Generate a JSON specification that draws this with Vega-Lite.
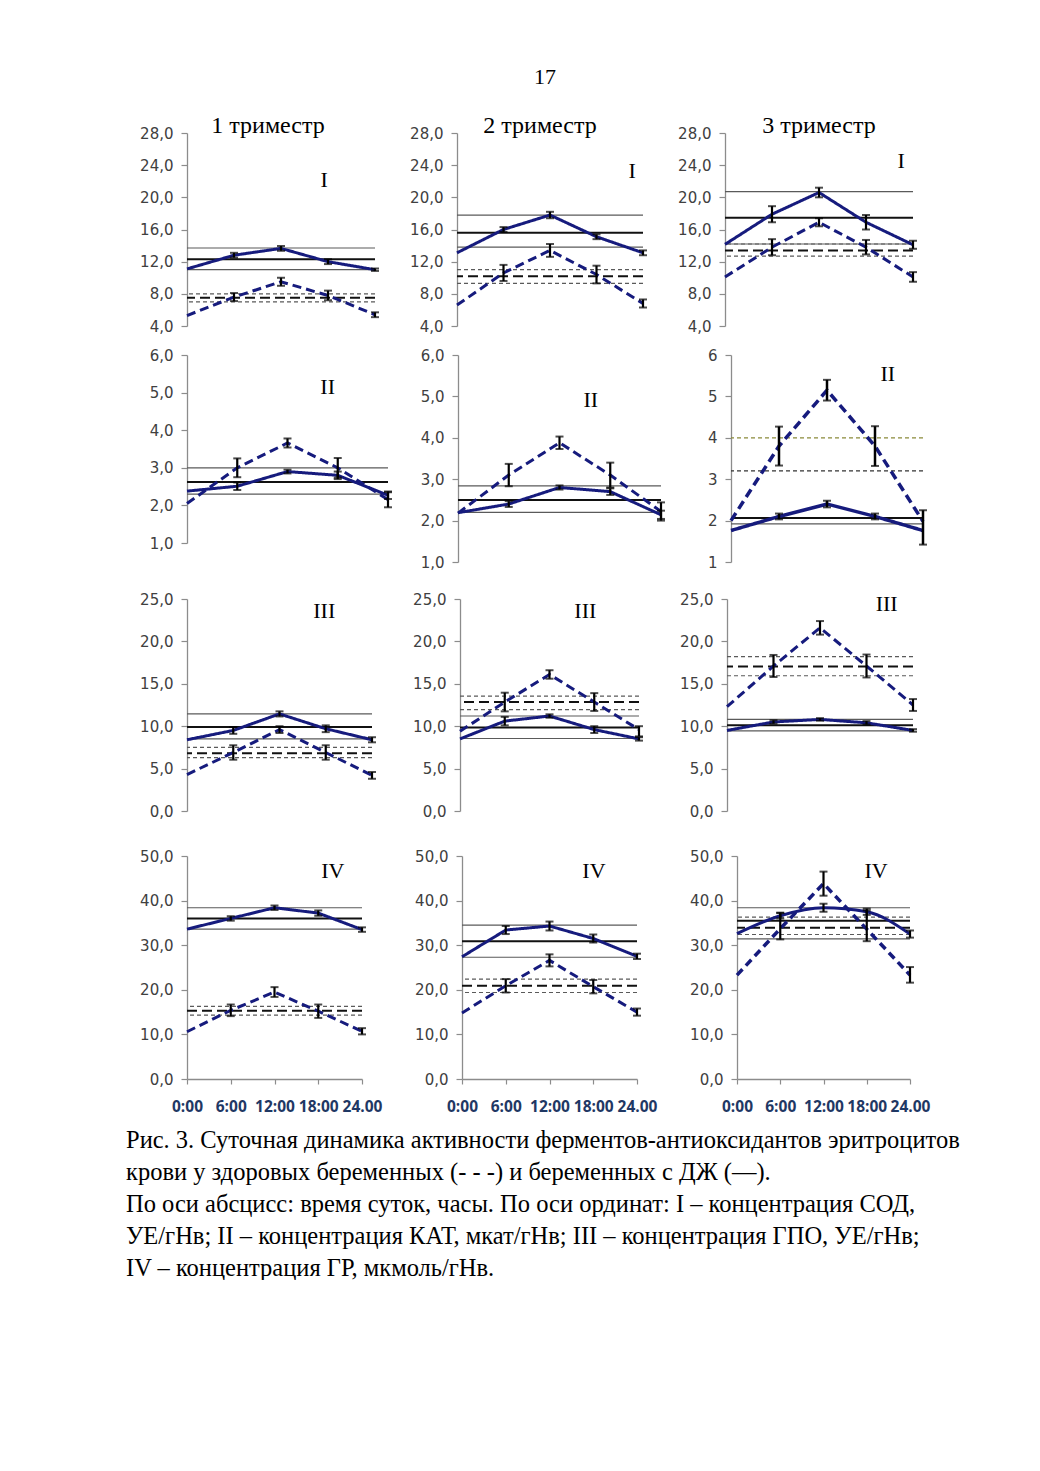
{
"$schema":"https://vega.github.io/schema/vega-lite/v6.json",
"background":"white",
"padding":{"left":126,"top":66,"right":0,"bottom":0},
"datasets":{
"labels":[{"p":"I1","t":"I"},{"p":"I2","t":"I"},{"p":"I3","t":"I"},{"p":"II1","t":"II"},{"p":"II2","t":"II"},{"p":"II3","t":"II"},{"p":"III1","t":"III"},{"p":"III2","t":"III"},{"p":"III3","t":"III"},{"p":"IV1","t":"IV"},{"p":"IV2","t":"IV"},{"p":"IV3","t":"IV"}],
"pts":[
{"p":"I1","g":"ДЖ","h":0,"v":11.1},{"p":"I1","g":"ДЖ","h":6,"v":12.8,"lo":12.5,"hi":13.1},{"p":"I1","g":"ДЖ","h":12,"v":13.65,"lo":13.35,"hi":13.95},{"p":"I1","g":"ДЖ","h":18,"v":12.0,"lo":11.7,"hi":12.3},{"p":"I1","g":"ДЖ","h":24,"v":11.0,"lo":10.85,"hi":11.15},
{"p":"I1","g":"здоровые","h":0,"v":5.3},{"p":"I1","g":"здоровые","h":6,"v":7.6,"lo":7.1,"hi":8.1},{"p":"I1","g":"здоровые","h":12,"v":9.5,"lo":9.0,"hi":10.0},{"p":"I1","g":"здоровые","h":18,"v":7.8,"lo":7.2,"hi":8.4},{"p":"I1","g":"здоровые","h":24,"v":5.4,"lo":5.1,"hi":5.7},
{"p":"I2","g":"ДЖ","h":0,"v":13.1},{"p":"I2","g":"ДЖ","h":6,"v":16.0,"lo":15.7,"hi":16.3},{"p":"I2","g":"ДЖ","h":12,"v":17.8,"lo":17.4,"hi":18.2},{"p":"I2","g":"ДЖ","h":18,"v":15.1,"lo":14.8,"hi":15.4},{"p":"I2","g":"ДЖ","h":24,"v":13.1,"lo":12.8,"hi":13.4},
{"p":"I2","g":"здоровые","h":0,"v":6.6},{"p":"I2","g":"здоровые","h":6,"v":10.6,"lo":9.6,"hi":11.6},{"p":"I2","g":"здоровые","h":12,"v":13.4,"lo":12.6,"hi":14.2},{"p":"I2","g":"здоровые","h":18,"v":10.4,"lo":9.3,"hi":11.5},{"p":"I2","g":"здоровые","h":24,"v":6.8,"lo":6.3,"hi":7.3},
{"p":"I3","g":"ДЖ","h":0,"v":14.15},{"p":"I3","g":"ДЖ","h":6,"v":17.9,"lo":16.9,"hi":18.9},{"p":"I3","g":"ДЖ","h":12,"v":20.6,"lo":20.0,"hi":21.2},{"p":"I3","g":"ДЖ","h":18,"v":16.9,"lo":16.0,"hi":17.8},{"p":"I3","g":"ДЖ","h":24,"v":14.1,"lo":13.6,"hi":14.6},
{"p":"I3","g":"здоровые","h":0,"v":10.1},{"p":"I3","g":"здоровые","h":6,"v":13.8,"lo":12.8,"hi":14.8},{"p":"I3","g":"здоровые","h":12,"v":16.9,"lo":16.4,"hi":17.4},{"p":"I3","g":"здоровые","h":18,"v":13.8,"lo":12.9,"hi":14.7},{"p":"I3","g":"здоровые","h":24,"v":10.1,"lo":9.5,"hi":10.7},
{"p":"II1","g":"ДЖ","h":0,"v":2.38},{"p":"II1","g":"ДЖ","h":6,"v":2.51,"lo":2.41,"hi":2.61},{"p":"II1","g":"ДЖ","h":12,"v":2.9,"lo":2.85,"hi":2.95},{"p":"II1","g":"ДЖ","h":18,"v":2.8,"lo":2.7,"hi":2.9},{"p":"II1","g":"ДЖ","h":24,"v":2.27,"lo":2.17,"hi":2.37},
{"p":"II1","g":"здоровые","h":0,"v":2.05},{"p":"II1","g":"здоровые","h":6,"v":3.0,"lo":2.75,"hi":3.25},{"p":"II1","g":"здоровые","h":12,"v":3.66,"lo":3.54,"hi":3.78},{"p":"II1","g":"здоровые","h":18,"v":3.0,"lo":2.74,"hi":3.26},{"p":"II1","g":"здоровые","h":24,"v":2.15,"lo":1.95,"hi":2.35},
{"p":"II2","g":"ДЖ","h":0,"v":2.19},{"p":"II2","g":"ДЖ","h":6,"v":2.4,"lo":2.33,"hi":2.47},{"p":"II2","g":"ДЖ","h":12,"v":2.8,"lo":2.75,"hi":2.85},{"p":"II2","g":"ДЖ","h":18,"v":2.7,"lo":2.62,"hi":2.78},{"p":"II2","g":"ДЖ","h":24,"v":2.14,"lo":2.04,"hi":2.24},
{"p":"II2","g":"здоровые","h":0,"v":2.18},{"p":"II2","g":"здоровые","h":6,"v":3.1,"lo":2.83,"hi":3.37},{"p":"II2","g":"здоровые","h":12,"v":3.88,"lo":3.73,"hi":4.03},{"p":"II2","g":"здоровые","h":18,"v":3.1,"lo":2.8,"hi":3.4},{"p":"II2","g":"здоровые","h":24,"v":2.22,"lo":2.0,"hi":2.44},
{"p":"II3","g":"ДЖ","h":0,"v":1.76},{"p":"II3","g":"ДЖ","h":6,"v":2.1,"lo":2.03,"hi":2.17},{"p":"II3","g":"ДЖ","h":12,"v":2.4,"lo":2.32,"hi":2.48},{"p":"II3","g":"ДЖ","h":18,"v":2.1,"lo":2.03,"hi":2.17},{"p":"II3","g":"ДЖ","h":24,"v":1.76,"lo":1.42,"hi":2.25},
{"p":"II3","g":"здоровые","h":0,"v":2.0},{"p":"II3","g":"здоровые","h":6,"v":3.8,"lo":3.33,"hi":4.27},{"p":"II3","g":"здоровые","h":12,"v":5.15,"lo":4.9,"hi":5.4},{"p":"II3","g":"здоровые","h":18,"v":3.8,"lo":3.32,"hi":4.28},{"p":"II3","g":"здоровые","h":24,"v":1.98},
{"p":"III1","g":"ДЖ","h":0,"v":8.4},{"p":"III1","g":"ДЖ","h":6,"v":9.5,"lo":9.1,"hi":9.9},{"p":"III1","g":"ДЖ","h":12,"v":11.45,"lo":11.15,"hi":11.75},{"p":"III1","g":"ДЖ","h":18,"v":9.7,"lo":9.3,"hi":10.1},{"p":"III1","g":"ДЖ","h":24,"v":8.4,"lo":8.1,"hi":8.7},
{"p":"III1","g":"здоровые","h":0,"v":4.3},{"p":"III1","g":"здоровые","h":6,"v":6.9,"lo":6.05,"hi":7.75},{"p":"III1","g":"здоровые","h":12,"v":9.6,"lo":9.2,"hi":10.0},{"p":"III1","g":"здоровые","h":18,"v":6.9,"lo":6.05,"hi":7.75},{"p":"III1","g":"здоровые","h":24,"v":4.2,"lo":3.8,"hi":4.6},
{"p":"III2","g":"ДЖ","h":0,"v":8.5},{"p":"III2","g":"ДЖ","h":6,"v":10.6,"lo":10.1,"hi":11.1},{"p":"III2","g":"ДЖ","h":12,"v":11.2,"lo":11.0,"hi":11.4},{"p":"III2","g":"ДЖ","h":18,"v":9.6,"lo":9.2,"hi":10.0},{"p":"III2","g":"ДЖ","h":24,"v":8.5,"lo":8.3,"hi":8.7},
{"p":"III2","g":"здоровые","h":0,"v":9.4},{"p":"III2","g":"здоровые","h":6,"v":12.85,"lo":11.75,"hi":13.95},{"p":"III2","g":"здоровые","h":12,"v":16.1,"lo":15.6,"hi":16.6},{"p":"III2","g":"здоровые","h":18,"v":12.85,"lo":11.8,"hi":13.9},{"p":"III2","g":"здоровые","h":24,"v":9.6,"lo":8.8,"hi":10.0},
{"p":"III3","g":"ДЖ","h":0,"v":9.5},{"p":"III3","g":"ДЖ","h":6,"v":10.5,"lo":10.3,"hi":10.7},{"p":"III3","g":"ДЖ","h":12,"v":10.8,"lo":10.65,"hi":10.95},{"p":"III3","g":"ДЖ","h":18,"v":10.4,"lo":10.2,"hi":10.6},{"p":"III3","g":"ДЖ","h":24,"v":9.5,"lo":9.35,"hi":9.65},
{"p":"III3","g":"здоровые","h":0,"v":12.3},{"p":"III3","g":"здоровые","h":6,"v":17.1,"lo":15.8,"hi":18.4},{"p":"III3","g":"здоровые","h":12,"v":21.6,"lo":20.8,"hi":22.4},{"p":"III3","g":"здоровые","h":18,"v":17.1,"lo":15.75,"hi":18.45},{"p":"III3","g":"здоровые","h":24,"v":12.5,"lo":11.8,"hi":13.2},
{"p":"IV1","g":"ДЖ","h":0,"v":33.6},{"p":"IV1","g":"ДЖ","h":6,"v":36.0,"lo":35.5,"hi":36.5},{"p":"IV1","g":"ДЖ","h":12,"v":38.4,"lo":37.9,"hi":38.9},{"p":"IV1","g":"ДЖ","h":18,"v":37.2,"lo":36.6,"hi":37.8},{"p":"IV1","g":"ДЖ","h":24,"v":33.5,"lo":33.0,"hi":34.0},
{"p":"IV1","g":"здоровые","h":0,"v":10.6},{"p":"IV1","g":"здоровые","h":6,"v":15.4,"lo":14.1,"hi":16.7},{"p":"IV1","g":"здоровые","h":12,"v":19.5,"lo":18.4,"hi":20.6},{"p":"IV1","g":"здоровые","h":18,"v":15.2,"lo":13.7,"hi":16.7},{"p":"IV1","g":"здоровые","h":24,"v":10.7,"lo":10.0,"hi":11.4},
{"p":"IV2","g":"ДЖ","h":0,"v":27.4},{"p":"IV2","g":"ДЖ","h":6,"v":33.4,"lo":32.5,"hi":34.3},{"p":"IV2","g":"ДЖ","h":12,"v":34.3,"lo":33.3,"hi":35.3},{"p":"IV2","g":"ДЖ","h":18,"v":31.5,"lo":30.6,"hi":32.4},{"p":"IV2","g":"ДЖ","h":24,"v":27.5,"lo":26.9,"hi":28.1},
{"p":"IV2","g":"здоровые","h":0,"v":14.8},{"p":"IV2","g":"здоровые","h":6,"v":20.9,"lo":19.4,"hi":22.4},{"p":"IV2","g":"здоровые","h":12,"v":26.6,"lo":25.25,"hi":27.95},{"p":"IV2","g":"здоровые","h":18,"v":20.7,"lo":19.2,"hi":22.2},{"p":"IV2","g":"здоровые","h":24,"v":15.0,"lo":14.2,"hi":15.8},
{"p":"IV3","g":"ДЖ","h":0,"v":32.6},{"p":"IV3","g":"ДЖ","h":6,"v":36.6,"lo":36.0,"hi":37.2},{"p":"IV3","g":"ДЖ","h":12,"v":38.4,"lo":37.5,"hi":39.3},{"p":"IV3","g":"ДЖ","h":18,"v":37.5,"lo":36.8,"hi":38.2},{"p":"IV3","g":"ДЖ","h":24,"v":32.5,"lo":31.7,"hi":33.3},
{"p":"IV3","g":"здоровые","h":0,"v":23.3},{"p":"IV3","g":"здоровые","h":6,"v":33.7,"lo":31.3,"hi":37.3},{"p":"IV3","g":"здоровые","h":12,"v":43.8,"lo":41.1,"hi":46.5},{"p":"IV3","g":"здоровые","h":18,"v":33.6,"lo":30.9,"hi":37.8},{"p":"IV3","g":"здоровые","h":24,"v":23.3,"lo":21.6,"hi":25.1}
],
"refs":[
{"p":"I1","g":"ДЖ","s":"m","v":12.3},{"p":"I1","g":"ДЖ","s":"b","v":13.7},{"p":"I1","g":"ДЖ","s":"b","v":11.0},{"p":"I1","g":"здоровые","s":"m","v":7.5},{"p":"I1","g":"здоровые","s":"b","v":8.0},{"p":"I1","g":"здоровые","s":"b","v":7.0},
{"p":"I2","g":"ДЖ","s":"m","v":15.6},{"p":"I2","g":"ДЖ","s":"b","v":17.8},{"p":"I2","g":"ДЖ","s":"b","v":13.8},{"p":"I2","g":"здоровые","s":"m","v":10.2},{"p":"I2","g":"здоровые","s":"b","v":11.0},{"p":"I2","g":"здоровые","s":"b","v":9.3},
{"p":"I3","g":"ДЖ","s":"m","v":17.45},{"p":"I3","g":"ДЖ","s":"b","v":20.7},{"p":"I3","g":"ДЖ","s":"b","v":14.2},{"p":"I3","g":"здоровые","s":"m","v":13.4},{"p":"I3","g":"здоровые","s":"b","v":14.2},{"p":"I3","g":"здоровые","s":"b","v":12.7},
{"p":"II1","g":"ДЖ","s":"m","v":2.62},{"p":"II1","g":"ДЖ","s":"b","v":3.0},{"p":"II1","g":"ДЖ","s":"b","v":2.3},
{"p":"II2","g":"ДЖ","s":"m","v":2.5},{"p":"II2","g":"ДЖ","s":"b","v":2.84},{"p":"II2","g":"ДЖ","s":"b","v":2.2},
{"p":"II3","g":"ДЖ","s":"m","v":2.06},{"p":"II3","g":"ДЖ","s":"b","v":1.92},{"p":"II3","g":"здоровые","s":"b","v":4.0},{"p":"II3","g":"здоровые","s":"b","v":3.2},
{"p":"III1","g":"ДЖ","s":"m","v":9.9},{"p":"III1","g":"ДЖ","s":"b","v":11.45},{"p":"III1","g":"ДЖ","s":"b","v":8.5},{"p":"III1","g":"здоровые","s":"m","v":6.8},{"p":"III1","g":"здоровые","s":"b","v":7.5},{"p":"III1","g":"здоровые","s":"b","v":6.3},
{"p":"III2","g":"ДЖ","s":"m","v":9.85},{"p":"III2","g":"ДЖ","s":"b","v":11.2},{"p":"III2","g":"ДЖ","s":"b","v":8.55},{"p":"III2","g":"здоровые","s":"m","v":12.85},{"p":"III2","g":"здоровые","s":"b","v":13.55},{"p":"III2","g":"здоровые","s":"b","v":11.95},
{"p":"III3","g":"ДЖ","s":"m","v":10.1},{"p":"III3","g":"ДЖ","s":"b","v":10.8},{"p":"III3","g":"ДЖ","s":"b","v":9.45},{"p":"III3","g":"здоровые","s":"m","v":17.05},{"p":"III3","g":"здоровые","s":"b","v":18.2},{"p":"III3","g":"здоровые","s":"b","v":15.95},
{"p":"IV1","g":"ДЖ","s":"m","v":36.0},{"p":"IV1","g":"ДЖ","s":"b","v":38.4},{"p":"IV1","g":"ДЖ","s":"b","v":33.6},{"p":"IV1","g":"здоровые","s":"m","v":15.3},{"p":"IV1","g":"здоровые","s":"b","v":16.3},{"p":"IV1","g":"здоровые","s":"b","v":14.3},
{"p":"IV2","g":"ДЖ","s":"m","v":30.9},{"p":"IV2","g":"ДЖ","s":"b","v":34.5},{"p":"IV2","g":"ДЖ","s":"b","v":27.3},{"p":"IV2","g":"здоровые","s":"m","v":20.9},{"p":"IV2","g":"здоровые","s":"b","v":22.4},{"p":"IV2","g":"здоровые","s":"b","v":19.4},
{"p":"IV3","g":"ДЖ","s":"m","v":35.5},{"p":"IV3","g":"ДЖ","s":"b","v":38.4},{"p":"IV3","g":"ДЖ","s":"b","v":31.4},{"p":"IV3","g":"здоровые","s":"m","v":33.9},{"p":"IV3","g":"здоровые","s":"b","v":36.3},{"p":"IV3","g":"здоровые","s":"b","v":32.4}
]
},
"title":{"text":["Рис. 3. Суточная динамика активности ферментов-антиоксидантов эритроцитов","крови у здоровых беременных (- - -) и  беременных с ДЖ (—).","По оси абсцисс: время суток, часы. По оси ординат:   I –  концентрация СОД,","УЕ/гНв; II – концентрация КАТ, мкат/гНв; III – концентрация ГПО, УЕ/гНв;","IV – концентрация ГР, мкмоль/гНв."],"orient":"bottom","anchor":"start","frame":"bounds","offset":14,"dx":-13,"lineHeight":32,"fontSize":24.5,"align":"left"},
"spacing":14,
"vconcat":[
{"title":{"text":"17","anchor":"middle","frame":"bounds","offset":25,"dx":16},
"hconcat":[
{"width":188,"height":193,"title":{"text":"1 триместр","frame":"group","dx":-13,"offset":-12,"fontSize":24},
"layer":[
{"data":{"name":"refs"},"transform":[{"filter":"datum.p=='I1'&&datum.g=='ДЖ'"}],"mark":"rule","encoding":{"y":{"field":"v","type":"quantitative","title":null,"scale":{"domain":[4,28],"nice":false,"zero":false},"axis":{"values":[4,8,12,16,20,24,28],"labelOverlap":false,"labelExpr":"replace(format(datum.value,'.1f'),'.',',')"}},"color":{"condition":{"test":"datum.s=='m'","value":"#111"},"value":"#5a5a5a"},"strokeWidth":{"condition":{"test":"datum.s=='m'","value":2},"value":1.2}}},
{"data":{"name":"refs"},"transform":[{"filter":"datum.p=='I1'&&datum.g!='ДЖ'"}],"mark":"rule","encoding":{"y":{"field":"v","type":"quantitative","title":null,"scale":{"domain":[4,28],"nice":false,"zero":false},"axis":{"values":[4,8,12,16,20,24,28],"labelOverlap":false,"labelExpr":"replace(format(datum.value,'.1f'),'.',',')"}},"color":{"condition":{"test":"datum.s=='m'","value":"#111"},"value":"#5a5a5a"},"strokeWidth":{"condition":{"test":"datum.s=='m'","value":2},"value":1.2},"strokeDash":{"condition":{"test":"datum.s=='m'","value":[10,5]},"value":[4,3]}}},
{"data":{"name":"pts"},"transform":[{"filter":"datum.p=='I1'"}],"mark":{"type":"line","color":"#161b7d","strokeWidth":3},"encoding":{"x":{"field":"h","type":"quantitative","title":null,"scale":{"domain":[0,24],"nice":false},"axis":null},"y":{"field":"v","type":"quantitative","title":null,"scale":{"domain":[4,28],"nice":false,"zero":false},"axis":{"values":[4,8,12,16,20,24,28],"labelOverlap":false,"labelExpr":"replace(format(datum.value,'.1f'),'.',',')"}},"strokeDash":{"field":"g","type":"nominal","scale":{"domain":["ДЖ","здоровые"],"range":[[1,0],[9,5]]},"legend":null}}},
{"data":{"name":"pts"},"transform":[{"filter":"datum.p=='I1'&&isValid(datum.lo)"}],"mark":{"type":"rule","color":"#000","strokeWidth":2.2},"encoding":{"x":{"field":"h","type":"quantitative","title":null,"axis":null},"y":{"field":"lo","type":"quantitative","title":null,"scale":{"domain":[4,28],"nice":false,"zero":false},"axis":{"values":[4,8,12,16,20,24,28],"labelOverlap":false,"labelExpr":"replace(format(datum.value,'.1f'),'.',',')"}},"y2":{"field":"hi"}}},
{"data":{"name":"pts"},"transform":[{"filter":"datum.p=='I1'&&isValid(datum.lo)"}],"mark":{"type":"tick","orient":"horizontal","size":8,"thickness":2,"color":"#000"},"encoding":{"x":{"field":"h","type":"quantitative","title":null,"axis":null},"y":{"field":"lo","type":"quantitative","title":null,"scale":{"domain":[4,28],"nice":false,"zero":false},"axis":{"values":[4,8,12,16,20,24,28],"labelOverlap":false,"labelExpr":"replace(format(datum.value,'.1f'),'.',',')"}}}},
{"data":{"name":"pts"},"transform":[{"filter":"datum.p=='I1'&&isValid(datum.lo)"}],"mark":{"type":"tick","orient":"horizontal","size":8,"thickness":2,"color":"#000"},"encoding":{"x":{"field":"h","type":"quantitative","title":null,"axis":null},"y":{"field":"hi","type":"quantitative","title":null,"scale":{"domain":[4,28],"nice":false,"zero":false},"axis":{"values":[4,8,12,16,20,24,28],"labelOverlap":false,"labelExpr":"replace(format(datum.value,'.1f'),'.',',')"}}}},
{"data":{"name":"labels"},"transform":[{"filter":"datum.p=='I1'"}],"mark":{"type":"text","font":"Liberation Serif","fontSize":22,"color":"#000"},"encoding":{"text":{"field":"t","type":"nominal"},"x":{"datum":17.5,"type":"quantitative","axis":null},"y":{"datum":22.2,"type":"quantitative","title":null,"scale":{"domain":[4,28],"nice":false,"zero":false},"axis":{"values":[4,8,12,16,20,24,28],"labelOverlap":false,"labelExpr":"replace(format(datum.value,'.1f'),'.',',')"}}}}
]},
{"width":186,"height":193,"title":{"text":"2 триместр","frame":"group","dx":-10,"offset":-12,"fontSize":24},
"layer":[
{"data":{"name":"refs"},"transform":[{"filter":"datum.p=='I2'&&datum.g=='ДЖ'"}],"mark":"rule","encoding":{"y":{"field":"v","type":"quantitative","title":null,"scale":{"domain":[4,28],"nice":false,"zero":false},"axis":{"values":[4,8,12,16,20,24,28],"labelOverlap":false,"labelExpr":"replace(format(datum.value,'.1f'),'.',',')"}},"color":{"condition":{"test":"datum.s=='m'","value":"#111"},"value":"#5a5a5a"},"strokeWidth":{"condition":{"test":"datum.s=='m'","value":2},"value":1.2}}},
{"data":{"name":"refs"},"transform":[{"filter":"datum.p=='I2'&&datum.g!='ДЖ'"}],"mark":"rule","encoding":{"y":{"field":"v","type":"quantitative","title":null,"scale":{"domain":[4,28],"nice":false,"zero":false},"axis":{"values":[4,8,12,16,20,24,28],"labelOverlap":false,"labelExpr":"replace(format(datum.value,'.1f'),'.',',')"}},"color":{"condition":{"test":"datum.s=='m'","value":"#111"},"value":"#5a5a5a"},"strokeWidth":{"condition":{"test":"datum.s=='m'","value":2},"value":1.2},"strokeDash":{"condition":{"test":"datum.s=='m'","value":[10,5]},"value":[4,3]}}},
{"data":{"name":"pts"},"transform":[{"filter":"datum.p=='I2'"}],"mark":{"type":"line","color":"#161b7d","strokeWidth":3},"encoding":{"x":{"field":"h","type":"quantitative","title":null,"scale":{"domain":[0,24],"nice":false},"axis":null},"y":{"field":"v","type":"quantitative","title":null,"scale":{"domain":[4,28],"nice":false,"zero":false},"axis":{"values":[4,8,12,16,20,24,28],"labelOverlap":false,"labelExpr":"replace(format(datum.value,'.1f'),'.',',')"}},"strokeDash":{"field":"g","type":"nominal","scale":{"domain":["ДЖ","здоровые"],"range":[[1,0],[9,5]]},"legend":null}}},
{"data":{"name":"pts"},"transform":[{"filter":"datum.p=='I2'&&isValid(datum.lo)"}],"mark":{"type":"rule","color":"#000","strokeWidth":2.2},"encoding":{"x":{"field":"h","type":"quantitative","title":null,"axis":null},"y":{"field":"lo","type":"quantitative","title":null,"scale":{"domain":[4,28],"nice":false,"zero":false},"axis":{"values":[4,8,12,16,20,24,28],"labelOverlap":false,"labelExpr":"replace(format(datum.value,'.1f'),'.',',')"}},"y2":{"field":"hi"}}},
{"data":{"name":"pts"},"transform":[{"filter":"datum.p=='I2'&&isValid(datum.lo)"}],"mark":{"type":"tick","orient":"horizontal","size":8,"thickness":2,"color":"#000"},"encoding":{"x":{"field":"h","type":"quantitative","title":null,"axis":null},"y":{"field":"lo","type":"quantitative","title":null,"scale":{"domain":[4,28],"nice":false,"zero":false},"axis":{"values":[4,8,12,16,20,24,28],"labelOverlap":false,"labelExpr":"replace(format(datum.value,'.1f'),'.',',')"}}}},
{"data":{"name":"pts"},"transform":[{"filter":"datum.p=='I2'&&isValid(datum.lo)"}],"mark":{"type":"tick","orient":"horizontal","size":8,"thickness":2,"color":"#000"},"encoding":{"x":{"field":"h","type":"quantitative","title":null,"axis":null},"y":{"field":"hi","type":"quantitative","title":null,"scale":{"domain":[4,28],"nice":false,"zero":false},"axis":{"values":[4,8,12,16,20,24,28],"labelOverlap":false,"labelExpr":"replace(format(datum.value,'.1f'),'.',',')"}}}},
{"data":{"name":"labels"},"transform":[{"filter":"datum.p=='I2'"}],"mark":{"type":"text","font":"Liberation Serif","fontSize":22,"color":"#000"},"encoding":{"text":{"field":"t","type":"nominal"},"x":{"datum":22.6,"type":"quantitative","axis":null},"y":{"datum":23.3,"type":"quantitative","title":null,"scale":{"domain":[4,28],"nice":false,"zero":false},"axis":{"values":[4,8,12,16,20,24,28],"labelOverlap":false,"labelExpr":"replace(format(datum.value,'.1f'),'.',',')"}}}}
]},
{"width":188,"height":193,"title":{"text":"3 триместр","frame":"group","dx":0,"offset":-12,"fontSize":24},
"layer":[
{"data":{"name":"refs"},"transform":[{"filter":"datum.p=='I3'&&datum.g=='ДЖ'"}],"mark":"rule","encoding":{"y":{"field":"v","type":"quantitative","title":null,"scale":{"domain":[4,28],"nice":false,"zero":false},"axis":{"values":[4,8,12,16,20,24,28],"labelOverlap":false,"labelExpr":"replace(format(datum.value,'.1f'),'.',',')"}},"color":{"condition":{"test":"datum.s=='m'","value":"#111"},"value":"#5a5a5a"},"strokeWidth":{"condition":{"test":"datum.s=='m'","value":2},"value":1.2}}},
{"data":{"name":"refs"},"transform":[{"filter":"datum.p=='I3'&&datum.g!='ДЖ'"}],"mark":"rule","encoding":{"y":{"field":"v","type":"quantitative","title":null,"scale":{"domain":[4,28],"nice":false,"zero":false},"axis":{"values":[4,8,12,16,20,24,28],"labelOverlap":false,"labelExpr":"replace(format(datum.value,'.1f'),'.',',')"}},"color":{"condition":{"test":"datum.s=='m'","value":"#111"},"value":"#5a5a5a"},"strokeWidth":{"condition":{"test":"datum.s=='m'","value":2},"value":1.2},"strokeDash":{"condition":{"test":"datum.s=='m'","value":[10,5]},"value":[4,3]}}},
{"data":{"name":"pts"},"transform":[{"filter":"datum.p=='I3'"}],"mark":{"type":"line","color":"#161b7d","strokeWidth":3},"encoding":{"x":{"field":"h","type":"quantitative","title":null,"scale":{"domain":[0,24],"nice":false},"axis":null},"y":{"field":"v","type":"quantitative","title":null,"scale":{"domain":[4,28],"nice":false,"zero":false},"axis":{"values":[4,8,12,16,20,24,28],"labelOverlap":false,"labelExpr":"replace(format(datum.value,'.1f'),'.',',')"}},"strokeDash":{"field":"g","type":"nominal","scale":{"domain":["ДЖ","здоровые"],"range":[[1,0],[9,5]]},"legend":null}}},
{"data":{"name":"pts"},"transform":[{"filter":"datum.p=='I3'&&isValid(datum.lo)"}],"mark":{"type":"rule","color":"#000","strokeWidth":2.2},"encoding":{"x":{"field":"h","type":"quantitative","title":null,"axis":null},"y":{"field":"lo","type":"quantitative","title":null,"scale":{"domain":[4,28],"nice":false,"zero":false},"axis":{"values":[4,8,12,16,20,24,28],"labelOverlap":false,"labelExpr":"replace(format(datum.value,'.1f'),'.',',')"}},"y2":{"field":"hi"}}},
{"data":{"name":"pts"},"transform":[{"filter":"datum.p=='I3'&&isValid(datum.lo)"}],"mark":{"type":"tick","orient":"horizontal","size":8,"thickness":2,"color":"#000"},"encoding":{"x":{"field":"h","type":"quantitative","title":null,"axis":null},"y":{"field":"lo","type":"quantitative","title":null,"scale":{"domain":[4,28],"nice":false,"zero":false},"axis":{"values":[4,8,12,16,20,24,28],"labelOverlap":false,"labelExpr":"replace(format(datum.value,'.1f'),'.',',')"}}}},
{"data":{"name":"pts"},"transform":[{"filter":"datum.p=='I3'&&isValid(datum.lo)"}],"mark":{"type":"tick","orient":"horizontal","size":8,"thickness":2,"color":"#000"},"encoding":{"x":{"field":"h","type":"quantitative","title":null,"axis":null},"y":{"field":"hi","type":"quantitative","title":null,"scale":{"domain":[4,28],"nice":false,"zero":false},"axis":{"values":[4,8,12,16,20,24,28],"labelOverlap":false,"labelExpr":"replace(format(datum.value,'.1f'),'.',',')"}}}},
{"data":{"name":"labels"},"transform":[{"filter":"datum.p=='I3'"}],"mark":{"type":"text","font":"Liberation Serif","fontSize":22,"color":"#000"},"encoding":{"text":{"field":"t","type":"nominal"},"x":{"datum":22.5,"type":"quantitative","axis":null},"y":{"datum":24.5,"type":"quantitative","title":null,"scale":{"domain":[4,28],"nice":false,"zero":false},"axis":{"values":[4,8,12,16,20,24,28],"labelOverlap":false,"labelExpr":"replace(format(datum.value,'.1f'),'.',',')"}}}}
]}
],"spacing":82,"bounds":"flush"},
{"spacing":22,
"vconcat":[
{"hconcat":[
{"width":201,"height":188,
"layer":[
{"data":{"name":"refs"},"transform":[{"filter":"datum.p=='II1'&&datum.g=='ДЖ'"}],"mark":"rule","encoding":{"y":{"field":"v","type":"quantitative","title":null,"scale":{"domain":[1,6],"nice":false,"zero":false},"axis":{"values":[1,2,3,4,5,6],"labelOverlap":false,"labelExpr":"replace(format(datum.value,'.1f'),'.',',')"}},"color":{"condition":{"test":"datum.s=='m'","value":"#111"},"value":"#5a5a5a"},"strokeWidth":{"condition":{"test":"datum.s=='m'","value":2},"value":1.2}}},
{"data":{"name":"pts"},"transform":[{"filter":"datum.p=='II1'"}],"mark":{"type":"line","color":"#161b7d","strokeWidth":3},"encoding":{"x":{"field":"h","type":"quantitative","title":null,"scale":{"domain":[0,24],"nice":false},"axis":null},"y":{"field":"v","type":"quantitative","title":null,"scale":{"domain":[1,6],"nice":false,"zero":false},"axis":{"values":[1,2,3,4,5,6],"labelOverlap":false,"labelExpr":"replace(format(datum.value,'.1f'),'.',',')"}},"strokeDash":{"field":"g","type":"nominal","scale":{"domain":["ДЖ","здоровые"],"range":[[1,0],[9,5]]},"legend":null}}},
{"data":{"name":"pts"},"transform":[{"filter":"datum.p=='II1'&&isValid(datum.lo)"}],"mark":{"type":"rule","color":"#000","strokeWidth":2.2},"encoding":{"x":{"field":"h","type":"quantitative","title":null,"axis":null},"y":{"field":"lo","type":"quantitative","title":null,"scale":{"domain":[1,6],"nice":false,"zero":false},"axis":{"values":[1,2,3,4,5,6],"labelOverlap":false,"labelExpr":"replace(format(datum.value,'.1f'),'.',',')"}},"y2":{"field":"hi"}}},
{"data":{"name":"pts"},"transform":[{"filter":"datum.p=='II1'&&isValid(datum.lo)"}],"mark":{"type":"tick","orient":"horizontal","size":8,"thickness":2,"color":"#000"},"encoding":{"x":{"field":"h","type":"quantitative","title":null,"axis":null},"y":{"field":"lo","type":"quantitative","title":null,"scale":{"domain":[1,6],"nice":false,"zero":false},"axis":{"values":[1,2,3,4,5,6],"labelOverlap":false,"labelExpr":"replace(format(datum.value,'.1f'),'.',',')"}}}},
{"data":{"name":"pts"},"transform":[{"filter":"datum.p=='II1'&&isValid(datum.lo)"}],"mark":{"type":"tick","orient":"horizontal","size":8,"thickness":2,"color":"#000"},"encoding":{"x":{"field":"h","type":"quantitative","title":null,"axis":null},"y":{"field":"hi","type":"quantitative","title":null,"scale":{"domain":[1,6],"nice":false,"zero":false},"axis":{"values":[1,2,3,4,5,6],"labelOverlap":false,"labelExpr":"replace(format(datum.value,'.1f'),'.',',')"}}}},
{"data":{"name":"labels"},"transform":[{"filter":"datum.p=='II1'"}],"mark":{"type":"text","font":"Liberation Serif","fontSize":22,"color":"#000"},"encoding":{"text":{"field":"t","type":"nominal"},"x":{"datum":16.8,"type":"quantitative","axis":null},"y":{"datum":5.15,"type":"quantitative","title":null,"scale":{"domain":[1,6],"nice":false,"zero":false},"axis":{"values":[1,2,3,4,5,6],"labelOverlap":false,"labelExpr":"replace(format(datum.value,'.1f'),'.',',')"}}}}
]},
{"width":203,"height":207,
"layer":[
{"data":{"name":"refs"},"transform":[{"filter":"datum.p=='II2'&&datum.g=='ДЖ'"}],"mark":"rule","encoding":{"y":{"field":"v","type":"quantitative","title":null,"scale":{"domain":[1,6],"nice":false,"zero":false},"axis":{"values":[1,2,3,4,5,6],"labelOverlap":false,"labelExpr":"replace(format(datum.value,'.1f'),'.',',')"}},"color":{"condition":{"test":"datum.s=='m'","value":"#111"},"value":"#5a5a5a"},"strokeWidth":{"condition":{"test":"datum.s=='m'","value":2},"value":1.2}}},
{"data":{"name":"pts"},"transform":[{"filter":"datum.p=='II2'"}],"mark":{"type":"line","color":"#161b7d","strokeWidth":3},"encoding":{"x":{"field":"h","type":"quantitative","title":null,"scale":{"domain":[0,24],"nice":false},"axis":null},"y":{"field":"v","type":"quantitative","title":null,"scale":{"domain":[1,6],"nice":false,"zero":false},"axis":{"values":[1,2,3,4,5,6],"labelOverlap":false,"labelExpr":"replace(format(datum.value,'.1f'),'.',',')"}},"strokeDash":{"field":"g","type":"nominal","scale":{"domain":["ДЖ","здоровые"],"range":[[1,0],[9,5]]},"legend":null}}},
{"data":{"name":"pts"},"transform":[{"filter":"datum.p=='II2'&&isValid(datum.lo)"}],"mark":{"type":"rule","color":"#000","strokeWidth":2.2},"encoding":{"x":{"field":"h","type":"quantitative","title":null,"axis":null},"y":{"field":"lo","type":"quantitative","title":null,"scale":{"domain":[1,6],"nice":false,"zero":false},"axis":{"values":[1,2,3,4,5,6],"labelOverlap":false,"labelExpr":"replace(format(datum.value,'.1f'),'.',',')"}},"y2":{"field":"hi"}}},
{"data":{"name":"pts"},"transform":[{"filter":"datum.p=='II2'&&isValid(datum.lo)"}],"mark":{"type":"tick","orient":"horizontal","size":8,"thickness":2,"color":"#000"},"encoding":{"x":{"field":"h","type":"quantitative","title":null,"axis":null},"y":{"field":"lo","type":"quantitative","title":null,"scale":{"domain":[1,6],"nice":false,"zero":false},"axis":{"values":[1,2,3,4,5,6],"labelOverlap":false,"labelExpr":"replace(format(datum.value,'.1f'),'.',',')"}}}},
{"data":{"name":"pts"},"transform":[{"filter":"datum.p=='II2'&&isValid(datum.lo)"}],"mark":{"type":"tick","orient":"horizontal","size":8,"thickness":2,"color":"#000"},"encoding":{"x":{"field":"h","type":"quantitative","title":null,"axis":null},"y":{"field":"hi","type":"quantitative","title":null,"scale":{"domain":[1,6],"nice":false,"zero":false},"axis":{"values":[1,2,3,4,5,6],"labelOverlap":false,"labelExpr":"replace(format(datum.value,'.1f'),'.',',')"}}}},
{"data":{"name":"labels"},"transform":[{"filter":"datum.p=='II2'"}],"mark":{"type":"text","font":"Liberation Serif","fontSize":22,"color":"#000"},"encoding":{"text":{"field":"t","type":"nominal"},"x":{"datum":15.7,"type":"quantitative","axis":null},"y":{"datum":4.91,"type":"quantitative","title":null,"scale":{"domain":[1,6],"nice":false,"zero":false},"axis":{"values":[1,2,3,4,5,6],"labelOverlap":false,"labelExpr":"replace(format(datum.value,'.1f'),'.',',')"}}}}
]},
{"width":192,"height":207,
"layer":[
{"data":{"name":"refs"},"transform":[{"filter":"datum.p=='II3'&&datum.g=='ДЖ'"}],"mark":"rule","encoding":{"y":{"field":"v","type":"quantitative","title":null,"scale":{"domain":[1,6],"nice":false,"zero":false},"axis":{"values":[1,2,3,4,5,6],"labelOverlap":false,"format":"d"}},"color":{"condition":{"test":"datum.s=='m'","value":"#111"},"value":"#5a5a5a"},"strokeWidth":{"condition":{"test":"datum.s=='m'","value":2},"value":1.2}}},
{"data":{"name":"refs"},"transform":[{"filter":"datum.p=='II3'&&datum.g!='ДЖ'"}],"mark":"rule","encoding":{"y":{"field":"v","type":"quantitative","title":null,"scale":{"domain":[1,6],"nice":false,"zero":false},"axis":{"values":[1,2,3,4,5,6],"labelOverlap":false,"format":"d"}},"color":{"condition":{"test":"datum.v>3.5","value":"#8a8a3a"},"value":"#333"},"strokeWidth":{"value":1.2},"strokeDash":{"value":[4,3]}}},
{"data":{"name":"pts"},"transform":[{"filter":"datum.p=='II3'"}],"mark":{"type":"line","color":"#161b7d","strokeWidth":3.5},"encoding":{"x":{"field":"h","type":"quantitative","title":null,"scale":{"domain":[0,24],"nice":false},"axis":null},"y":{"field":"v","type":"quantitative","title":null,"scale":{"domain":[1,6],"nice":false,"zero":false},"axis":{"values":[1,2,3,4,5,6],"labelOverlap":false,"format":"d"}},"strokeDash":{"field":"g","type":"nominal","scale":{"domain":["ДЖ","здоровые"],"range":[[1,0],[7,4]]},"legend":null}}},
{"data":{"name":"pts"},"transform":[{"filter":"datum.p=='II3'&&isValid(datum.lo)"}],"mark":{"type":"rule","color":"#000","strokeWidth":2.5},"encoding":{"x":{"field":"h","type":"quantitative","title":null,"axis":null},"y":{"field":"lo","type":"quantitative","title":null,"scale":{"domain":[1,6],"nice":false,"zero":false},"axis":{"values":[1,2,3,4,5,6],"labelOverlap":false,"format":"d"}},"y2":{"field":"hi"}}},
{"data":{"name":"pts"},"transform":[{"filter":"datum.p=='II3'&&isValid(datum.lo)"}],"mark":{"type":"tick","orient":"horizontal","size":8,"thickness":2,"color":"#000"},"encoding":{"x":{"field":"h","type":"quantitative","title":null,"axis":null},"y":{"field":"lo","type":"quantitative","title":null,"scale":{"domain":[1,6],"nice":false,"zero":false},"axis":{"values":[1,2,3,4,5,6],"labelOverlap":false,"format":"d"}}}},
{"data":{"name":"pts"},"transform":[{"filter":"datum.p=='II3'&&isValid(datum.lo)"}],"mark":{"type":"tick","orient":"horizontal","size":8,"thickness":2,"color":"#000"},"encoding":{"x":{"field":"h","type":"quantitative","title":null,"axis":null},"y":{"field":"hi","type":"quantitative","title":null,"scale":{"domain":[1,6],"nice":false,"zero":false},"axis":{"values":[1,2,3,4,5,6],"labelOverlap":false,"format":"d"}}}},
{"data":{"name":"labels"},"transform":[{"filter":"datum.p=='II3'"}],"mark":{"type":"text","font":"Liberation Serif","fontSize":22,"color":"#000"},"encoding":{"text":{"field":"t","type":"nominal"},"x":{"datum":19.6,"type":"quantitative","axis":null},"y":{"datum":5.54,"type":"quantitative","title":null,"scale":{"domain":[1,6],"nice":false,"zero":false},"axis":{"values":[1,2,3,4,5,6],"labelOverlap":false,"format":"d"}}}}
]}
],"spacing":70,"bounds":"flush"},
{"spacing":30,"vconcat":[
{"hconcat":[
{"width":185,"height":212,
"layer":[
{"data":{"name":"refs"},"transform":[{"filter":"datum.p=='III1'&&datum.g=='ДЖ'"}],"mark":"rule","encoding":{"y":{"field":"v","type":"quantitative","title":null,"scale":{"domain":[0,25],"nice":false,"zero":false},"axis":{"values":[0,5,10,15,20,25],"labelOverlap":false,"labelExpr":"replace(format(datum.value,'.1f'),'.',',')"}},"color":{"condition":{"test":"datum.s=='m'","value":"#111"},"value":"#5a5a5a"},"strokeWidth":{"condition":{"test":"datum.s=='m'","value":2},"value":1.2}}},
{"data":{"name":"refs"},"transform":[{"filter":"datum.p=='III1'&&datum.g!='ДЖ'"}],"mark":"rule","encoding":{"y":{"field":"v","type":"quantitative","title":null,"scale":{"domain":[0,25],"nice":false,"zero":false},"axis":{"values":[0,5,10,15,20,25],"labelOverlap":false,"labelExpr":"replace(format(datum.value,'.1f'),'.',',')"}},"color":{"condition":{"test":"datum.s=='m'","value":"#111"},"value":"#5a5a5a"},"strokeWidth":{"condition":{"test":"datum.s=='m'","value":2},"value":1.2},"strokeDash":{"condition":{"test":"datum.s=='m'","value":[10,5]},"value":[4,3]}}},
{"data":{"name":"pts"},"transform":[{"filter":"datum.p=='III1'"}],"mark":{"type":"line","color":"#161b7d","strokeWidth":3},"encoding":{"x":{"field":"h","type":"quantitative","title":null,"scale":{"domain":[0,24],"nice":false},"axis":null},"y":{"field":"v","type":"quantitative","title":null,"scale":{"domain":[0,25],"nice":false,"zero":false},"axis":{"values":[0,5,10,15,20,25],"labelOverlap":false,"labelExpr":"replace(format(datum.value,'.1f'),'.',',')"}},"strokeDash":{"field":"g","type":"nominal","scale":{"domain":["ДЖ","здоровые"],"range":[[1,0],[9,5]]},"legend":null}}},
{"data":{"name":"pts"},"transform":[{"filter":"datum.p=='III1'&&isValid(datum.lo)"}],"mark":{"type":"rule","color":"#000","strokeWidth":2.2},"encoding":{"x":{"field":"h","type":"quantitative","title":null,"axis":null},"y":{"field":"lo","type":"quantitative","title":null,"scale":{"domain":[0,25],"nice":false,"zero":false},"axis":{"values":[0,5,10,15,20,25],"labelOverlap":false,"labelExpr":"replace(format(datum.value,'.1f'),'.',',')"}},"y2":{"field":"hi"}}},
{"data":{"name":"pts"},"transform":[{"filter":"datum.p=='III1'&&isValid(datum.lo)"}],"mark":{"type":"tick","orient":"horizontal","size":8,"thickness":2,"color":"#000"},"encoding":{"x":{"field":"h","type":"quantitative","title":null,"axis":null},"y":{"field":"lo","type":"quantitative","title":null,"scale":{"domain":[0,25],"nice":false,"zero":false},"axis":{"values":[0,5,10,15,20,25],"labelOverlap":false,"labelExpr":"replace(format(datum.value,'.1f'),'.',',')"}}}},
{"data":{"name":"pts"},"transform":[{"filter":"datum.p=='III1'&&isValid(datum.lo)"}],"mark":{"type":"tick","orient":"horizontal","size":8,"thickness":2,"color":"#000"},"encoding":{"x":{"field":"h","type":"quantitative","title":null,"axis":null},"y":{"field":"hi","type":"quantitative","title":null,"scale":{"domain":[0,25],"nice":false,"zero":false},"axis":{"values":[0,5,10,15,20,25],"labelOverlap":false,"labelExpr":"replace(format(datum.value,'.1f'),'.',',')"}}}},
{"data":{"name":"labels"},"transform":[{"filter":"datum.p=='III1'"}],"mark":{"type":"text","font":"Liberation Serif","fontSize":22,"color":"#000"},"encoding":{"text":{"field":"t","type":"nominal"},"x":{"datum":17.8,"type":"quantitative","axis":null},"y":{"datum":23.6,"type":"quantitative","title":null,"scale":{"domain":[0,25],"nice":false,"zero":false},"axis":{"values":[0,5,10,15,20,25],"labelOverlap":false,"labelExpr":"replace(format(datum.value,'.1f'),'.',',')"}}}}
]},
{"width":179,"height":212,
"layer":[
{"data":{"name":"refs"},"transform":[{"filter":"datum.p=='III2'&&datum.g=='ДЖ'"}],"mark":"rule","encoding":{"y":{"field":"v","type":"quantitative","title":null,"scale":{"domain":[0,25],"nice":false,"zero":false},"axis":{"values":[0,5,10,15,20,25],"labelOverlap":false,"labelExpr":"replace(format(datum.value,'.1f'),'.',',')"}},"color":{"condition":{"test":"datum.s=='m'","value":"#111"},"value":"#5a5a5a"},"strokeWidth":{"condition":{"test":"datum.s=='m'","value":2},"value":1.2}}},
{"data":{"name":"refs"},"transform":[{"filter":"datum.p=='III2'&&datum.g!='ДЖ'"}],"mark":"rule","encoding":{"y":{"field":"v","type":"quantitative","title":null,"scale":{"domain":[0,25],"nice":false,"zero":false},"axis":{"values":[0,5,10,15,20,25],"labelOverlap":false,"labelExpr":"replace(format(datum.value,'.1f'),'.',',')"}},"color":{"condition":{"test":"datum.s=='m'","value":"#111"},"value":"#5a5a5a"},"strokeWidth":{"condition":{"test":"datum.s=='m'","value":2},"value":1.2},"strokeDash":{"condition":{"test":"datum.s=='m'","value":[10,5]},"value":[4,3]}}},
{"data":{"name":"pts"},"transform":[{"filter":"datum.p=='III2'"}],"mark":{"type":"line","color":"#161b7d","strokeWidth":3},"encoding":{"x":{"field":"h","type":"quantitative","title":null,"scale":{"domain":[0,24],"nice":false},"axis":null},"y":{"field":"v","type":"quantitative","title":null,"scale":{"domain":[0,25],"nice":false,"zero":false},"axis":{"values":[0,5,10,15,20,25],"labelOverlap":false,"labelExpr":"replace(format(datum.value,'.1f'),'.',',')"}},"strokeDash":{"field":"g","type":"nominal","scale":{"domain":["ДЖ","здоровые"],"range":[[1,0],[9,5]]},"legend":null}}},
{"data":{"name":"pts"},"transform":[{"filter":"datum.p=='III2'&&isValid(datum.lo)"}],"mark":{"type":"rule","color":"#000","strokeWidth":2.2},"encoding":{"x":{"field":"h","type":"quantitative","title":null,"axis":null},"y":{"field":"lo","type":"quantitative","title":null,"scale":{"domain":[0,25],"nice":false,"zero":false},"axis":{"values":[0,5,10,15,20,25],"labelOverlap":false,"labelExpr":"replace(format(datum.value,'.1f'),'.',',')"}},"y2":{"field":"hi"}}},
{"data":{"name":"pts"},"transform":[{"filter":"datum.p=='III2'&&isValid(datum.lo)"}],"mark":{"type":"tick","orient":"horizontal","size":8,"thickness":2,"color":"#000"},"encoding":{"x":{"field":"h","type":"quantitative","title":null,"axis":null},"y":{"field":"lo","type":"quantitative","title":null,"scale":{"domain":[0,25],"nice":false,"zero":false},"axis":{"values":[0,5,10,15,20,25],"labelOverlap":false,"labelExpr":"replace(format(datum.value,'.1f'),'.',',')"}}}},
{"data":{"name":"pts"},"transform":[{"filter":"datum.p=='III2'&&isValid(datum.lo)"}],"mark":{"type":"tick","orient":"horizontal","size":8,"thickness":2,"color":"#000"},"encoding":{"x":{"field":"h","type":"quantitative","title":null,"axis":null},"y":{"field":"hi","type":"quantitative","title":null,"scale":{"domain":[0,25],"nice":false,"zero":false},"axis":{"values":[0,5,10,15,20,25],"labelOverlap":false,"labelExpr":"replace(format(datum.value,'.1f'),'.',',')"}}}},
{"data":{"name":"labels"},"transform":[{"filter":"datum.p=='III2'"}],"mark":{"type":"text","font":"Liberation Serif","fontSize":22,"color":"#000"},"encoding":{"text":{"field":"t","type":"nominal"},"x":{"datum":16.8,"type":"quantitative","axis":null},"y":{"datum":23.6,"type":"quantitative","title":null,"scale":{"domain":[0,25],"nice":false,"zero":false},"axis":{"values":[0,5,10,15,20,25],"labelOverlap":false,"labelExpr":"replace(format(datum.value,'.1f'),'.',',')"}}}}
]},
{"width":186,"height":212,
"layer":[
{"data":{"name":"refs"},"transform":[{"filter":"datum.p=='III3'&&datum.g=='ДЖ'"}],"mark":"rule","encoding":{"y":{"field":"v","type":"quantitative","title":null,"scale":{"domain":[0,25],"nice":false,"zero":false},"axis":{"values":[0,5,10,15,20,25],"labelOverlap":false,"labelExpr":"replace(format(datum.value,'.1f'),'.',',')"}},"color":{"condition":{"test":"datum.s=='m'","value":"#111"},"value":"#5a5a5a"},"strokeWidth":{"condition":{"test":"datum.s=='m'","value":2},"value":1.2}}},
{"data":{"name":"refs"},"transform":[{"filter":"datum.p=='III3'&&datum.g!='ДЖ'"}],"mark":"rule","encoding":{"y":{"field":"v","type":"quantitative","title":null,"scale":{"domain":[0,25],"nice":false,"zero":false},"axis":{"values":[0,5,10,15,20,25],"labelOverlap":false,"labelExpr":"replace(format(datum.value,'.1f'),'.',',')"}},"color":{"condition":{"test":"datum.s=='m'","value":"#111"},"value":"#5a5a5a"},"strokeWidth":{"condition":{"test":"datum.s=='m'","value":2},"value":1.2},"strokeDash":{"condition":{"test":"datum.s=='m'","value":[10,5]},"value":[4,3]}}},
{"data":{"name":"pts"},"transform":[{"filter":"datum.p=='III3'"}],"mark":{"type":"line","color":"#161b7d","strokeWidth":3},"encoding":{"x":{"field":"h","type":"quantitative","title":null,"scale":{"domain":[0,24],"nice":false},"axis":null},"y":{"field":"v","type":"quantitative","title":null,"scale":{"domain":[0,25],"nice":false,"zero":false},"axis":{"values":[0,5,10,15,20,25],"labelOverlap":false,"labelExpr":"replace(format(datum.value,'.1f'),'.',',')"}},"strokeDash":{"field":"g","type":"nominal","scale":{"domain":["ДЖ","здоровые"],"range":[[1,0],[9,5]]},"legend":null}}},
{"data":{"name":"pts"},"transform":[{"filter":"datum.p=='III3'&&isValid(datum.lo)"}],"mark":{"type":"rule","color":"#000","strokeWidth":2.2},"encoding":{"x":{"field":"h","type":"quantitative","title":null,"axis":null},"y":{"field":"lo","type":"quantitative","title":null,"scale":{"domain":[0,25],"nice":false,"zero":false},"axis":{"values":[0,5,10,15,20,25],"labelOverlap":false,"labelExpr":"replace(format(datum.value,'.1f'),'.',',')"}},"y2":{"field":"hi"}}},
{"data":{"name":"pts"},"transform":[{"filter":"datum.p=='III3'&&isValid(datum.lo)"}],"mark":{"type":"tick","orient":"horizontal","size":8,"thickness":2,"color":"#000"},"encoding":{"x":{"field":"h","type":"quantitative","title":null,"axis":null},"y":{"field":"lo","type":"quantitative","title":null,"scale":{"domain":[0,25],"nice":false,"zero":false},"axis":{"values":[0,5,10,15,20,25],"labelOverlap":false,"labelExpr":"replace(format(datum.value,'.1f'),'.',',')"}}}},
{"data":{"name":"pts"},"transform":[{"filter":"datum.p=='III3'&&isValid(datum.lo)"}],"mark":{"type":"tick","orient":"horizontal","size":8,"thickness":2,"color":"#000"},"encoding":{"x":{"field":"h","type":"quantitative","title":null,"axis":null},"y":{"field":"hi","type":"quantitative","title":null,"scale":{"domain":[0,25],"nice":false,"zero":false},"axis":{"values":[0,5,10,15,20,25],"labelOverlap":false,"labelExpr":"replace(format(datum.value,'.1f'),'.',',')"}}}},
{"data":{"name":"labels"},"transform":[{"filter":"datum.p=='III3'"}],"mark":{"type":"text","font":"Liberation Serif","fontSize":22,"color":"#000"},"encoding":{"text":{"field":"t","type":"nominal"},"x":{"datum":20.6,"type":"quantitative","axis":null},"y":{"datum":24.4,"type":"quantitative","title":null,"scale":{"domain":[0,25],"nice":false,"zero":false},"axis":{"values":[0,5,10,15,20,25],"labelOverlap":false,"labelExpr":"replace(format(datum.value,'.1f'),'.',',')"}}}}
]}
],"spacing":88,"bounds":"flush"},
{"hconcat":[
{"width":175,"height":223,
"layer":[
{"data":{"name":"refs"},"transform":[{"filter":"datum.p=='IV1'&&datum.g=='ДЖ'"}],"mark":"rule","encoding":{"y":{"field":"v","type":"quantitative","title":null,"scale":{"domain":[0,50],"nice":false,"zero":false},"axis":{"values":[0,10,20,30,40,50],"labelOverlap":false,"labelExpr":"replace(format(datum.value,'.1f'),'.',',')"}},"color":{"condition":{"test":"datum.s=='m'","value":"#111"},"value":"#5a5a5a"},"strokeWidth":{"condition":{"test":"datum.s=='m'","value":2},"value":1.2}}},
{"data":{"name":"refs"},"transform":[{"filter":"datum.p=='IV1'&&datum.g!='ДЖ'"}],"mark":"rule","encoding":{"y":{"field":"v","type":"quantitative","title":null,"scale":{"domain":[0,50],"nice":false,"zero":false},"axis":{"values":[0,10,20,30,40,50],"labelOverlap":false,"labelExpr":"replace(format(datum.value,'.1f'),'.',',')"}},"color":{"condition":{"test":"datum.s=='m'","value":"#111"},"value":"#5a5a5a"},"strokeWidth":{"condition":{"test":"datum.s=='m'","value":2},"value":1.2},"strokeDash":{"condition":{"test":"datum.s=='m'","value":[10,5]},"value":[4,3]}}},
{"data":{"name":"pts"},"transform":[{"filter":"datum.p=='IV1'"}],"mark":{"type":"line","color":"#161b7d","strokeWidth":3},"encoding":{"x":{"field":"h","type":"quantitative","title":null,"scale":{"domain":[0,24],"nice":false},"axis":{"values":[0,6,12,18,24],"labelExpr":"datum.value==24?'24.00':datum.value+':00'","labelFont":"Open Sans","labelFontWeight":"bold","labelFontSize":15.5,"labelColor":"#1f3864","labelPadding":15,"tickSize":5,"labelOverlap":false,"labelBound":false,"labelFlush":false}},"y":{"field":"v","type":"quantitative","title":null,"scale":{"domain":[0,50],"nice":false,"zero":false},"axis":{"values":[0,10,20,30,40,50],"labelOverlap":false,"labelExpr":"replace(format(datum.value,'.1f'),'.',',')"}},"strokeDash":{"field":"g","type":"nominal","scale":{"domain":["ДЖ","здоровые"],"range":[[1,0],[9,5]]},"legend":null}}},
{"data":{"name":"pts"},"transform":[{"filter":"datum.p=='IV1'&&isValid(datum.lo)"}],"mark":{"type":"rule","color":"#000","strokeWidth":2.2},"encoding":{"x":{"field":"h","type":"quantitative","title":null},"y":{"field":"lo","type":"quantitative","title":null,"scale":{"domain":[0,50],"nice":false,"zero":false},"axis":{"values":[0,10,20,30,40,50],"labelOverlap":false,"labelExpr":"replace(format(datum.value,'.1f'),'.',',')"}},"y2":{"field":"hi"}}},
{"data":{"name":"pts"},"transform":[{"filter":"datum.p=='IV1'&&isValid(datum.lo)"}],"mark":{"type":"tick","orient":"horizontal","size":8,"thickness":2,"color":"#000"},"encoding":{"x":{"field":"h","type":"quantitative","title":null},"y":{"field":"lo","type":"quantitative","title":null,"scale":{"domain":[0,50],"nice":false,"zero":false},"axis":{"values":[0,10,20,30,40,50],"labelOverlap":false,"labelExpr":"replace(format(datum.value,'.1f'),'.',',')"}}}},
{"data":{"name":"pts"},"transform":[{"filter":"datum.p=='IV1'&&isValid(datum.lo)"}],"mark":{"type":"tick","orient":"horizontal","size":8,"thickness":2,"color":"#000"},"encoding":{"x":{"field":"h","type":"quantitative","title":null},"y":{"field":"hi","type":"quantitative","title":null,"scale":{"domain":[0,50],"nice":false,"zero":false},"axis":{"values":[0,10,20,30,40,50],"labelOverlap":false,"labelExpr":"replace(format(datum.value,'.1f'),'.',',')"}}}},
{"data":{"name":"labels"},"transform":[{"filter":"datum.p=='IV1'"}],"mark":{"type":"text","font":"Liberation Serif","fontSize":22,"color":"#000"},"encoding":{"text":{"field":"t","type":"nominal"},"x":{"datum":20.0,"type":"quantitative","title":null},"y":{"datum":46.6,"type":"quantitative","title":null,"scale":{"domain":[0,50],"nice":false,"zero":false},"axis":{"values":[0,10,20,30,40,50],"labelOverlap":false,"labelExpr":"replace(format(datum.value,'.1f'),'.',',')"}}}}
]},
{"width":175,"height":223,
"layer":[
{"data":{"name":"refs"},"transform":[{"filter":"datum.p=='IV2'&&datum.g=='ДЖ'"}],"mark":"rule","encoding":{"y":{"field":"v","type":"quantitative","title":null,"scale":{"domain":[0,50],"nice":false,"zero":false},"axis":{"values":[0,10,20,30,40,50],"labelOverlap":false,"labelExpr":"replace(format(datum.value,'.1f'),'.',',')"}},"color":{"condition":{"test":"datum.s=='m'","value":"#111"},"value":"#5a5a5a"},"strokeWidth":{"condition":{"test":"datum.s=='m'","value":2},"value":1.2}}},
{"data":{"name":"refs"},"transform":[{"filter":"datum.p=='IV2'&&datum.g!='ДЖ'"}],"mark":"rule","encoding":{"y":{"field":"v","type":"quantitative","title":null,"scale":{"domain":[0,50],"nice":false,"zero":false},"axis":{"values":[0,10,20,30,40,50],"labelOverlap":false,"labelExpr":"replace(format(datum.value,'.1f'),'.',',')"}},"color":{"condition":{"test":"datum.s=='m'","value":"#111"},"value":"#5a5a5a"},"strokeWidth":{"condition":{"test":"datum.s=='m'","value":2},"value":1.2},"strokeDash":{"condition":{"test":"datum.s=='m'","value":[10,5]},"value":[4,3]}}},
{"data":{"name":"pts"},"transform":[{"filter":"datum.p=='IV2'"}],"mark":{"type":"line","color":"#161b7d","strokeWidth":3},"encoding":{"x":{"field":"h","type":"quantitative","title":null,"scale":{"domain":[0,24],"nice":false},"axis":{"values":[0,6,12,18,24],"labelExpr":"datum.value==24?'24.00':datum.value+':00'","labelFont":"Open Sans","labelFontWeight":"bold","labelFontSize":15.5,"labelColor":"#1f3864","labelPadding":15,"tickSize":5,"labelOverlap":false,"labelBound":false,"labelFlush":false}},"y":{"field":"v","type":"quantitative","title":null,"scale":{"domain":[0,50],"nice":false,"zero":false},"axis":{"values":[0,10,20,30,40,50],"labelOverlap":false,"labelExpr":"replace(format(datum.value,'.1f'),'.',',')"}},"strokeDash":{"field":"g","type":"nominal","scale":{"domain":["ДЖ","здоровые"],"range":[[1,0],[9,5]]},"legend":null}}},
{"data":{"name":"pts"},"transform":[{"filter":"datum.p=='IV2'&&isValid(datum.lo)"}],"mark":{"type":"rule","color":"#000","strokeWidth":2.2},"encoding":{"x":{"field":"h","type":"quantitative","title":null},"y":{"field":"lo","type":"quantitative","title":null,"scale":{"domain":[0,50],"nice":false,"zero":false},"axis":{"values":[0,10,20,30,40,50],"labelOverlap":false,"labelExpr":"replace(format(datum.value,'.1f'),'.',',')"}},"y2":{"field":"hi"}}},
{"data":{"name":"pts"},"transform":[{"filter":"datum.p=='IV2'&&isValid(datum.lo)"}],"mark":{"type":"tick","orient":"horizontal","size":8,"thickness":2,"color":"#000"},"encoding":{"x":{"field":"h","type":"quantitative","title":null},"y":{"field":"lo","type":"quantitative","title":null,"scale":{"domain":[0,50],"nice":false,"zero":false},"axis":{"values":[0,10,20,30,40,50],"labelOverlap":false,"labelExpr":"replace(format(datum.value,'.1f'),'.',',')"}}}},
{"data":{"name":"pts"},"transform":[{"filter":"datum.p=='IV2'&&isValid(datum.lo)"}],"mark":{"type":"tick","orient":"horizontal","size":8,"thickness":2,"color":"#000"},"encoding":{"x":{"field":"h","type":"quantitative","title":null},"y":{"field":"hi","type":"quantitative","title":null,"scale":{"domain":[0,50],"nice":false,"zero":false},"axis":{"values":[0,10,20,30,40,50],"labelOverlap":false,"labelExpr":"replace(format(datum.value,'.1f'),'.',',')"}}}},
{"data":{"name":"labels"},"transform":[{"filter":"datum.p=='IV2'"}],"mark":{"type":"text","font":"Liberation Serif","fontSize":22,"color":"#000"},"encoding":{"text":{"field":"t","type":"nominal"},"x":{"datum":18.1,"type":"quantitative","title":null},"y":{"datum":46.6,"type":"quantitative","title":null,"scale":{"domain":[0,50],"nice":false,"zero":false},"axis":{"values":[0,10,20,30,40,50],"labelOverlap":false,"labelExpr":"replace(format(datum.value,'.1f'),'.',',')"}}}}
]},
{"width":173,"height":223,
"layer":[
{"data":{"name":"refs"},"transform":[{"filter":"datum.p=='IV3'&&datum.g=='ДЖ'"}],"mark":"rule","encoding":{"y":{"field":"v","type":"quantitative","title":null,"scale":{"domain":[0,50],"nice":false,"zero":false},"axis":{"values":[0,10,20,30,40,50],"labelOverlap":false,"labelExpr":"replace(format(datum.value,'.1f'),'.',',')"}},"color":{"condition":{"test":"datum.s=='m'","value":"#111"},"value":"#5a5a5a"},"strokeWidth":{"condition":{"test":"datum.s=='m'","value":2},"value":1.2}}},
{"data":{"name":"refs"},"transform":[{"filter":"datum.p=='IV3'&&datum.g!='ДЖ'"}],"mark":"rule","encoding":{"y":{"field":"v","type":"quantitative","title":null,"scale":{"domain":[0,50],"nice":false,"zero":false},"axis":{"values":[0,10,20,30,40,50],"labelOverlap":false,"labelExpr":"replace(format(datum.value,'.1f'),'.',',')"}},"color":{"condition":{"test":"datum.s=='m'","value":"#111"},"value":"#5a5a5a"},"strokeWidth":{"condition":{"test":"datum.s=='m'","value":2},"value":1.2},"strokeDash":{"condition":{"test":"datum.s=='m'","value":[10,5]},"value":[4,3]}}},
{"data":{"name":"pts"},"transform":[{"filter":"datum.p=='IV3'&&datum.g=='ДЖ'"}],"mark":{"type":"line","color":"#161b7d","strokeWidth":3,"interpolate":"monotone"},"encoding":{"x":{"field":"h","type":"quantitative","title":null,"scale":{"domain":[0,24],"nice":false},"axis":{"values":[0,6,12,18,24],"labelExpr":"datum.value==24?'24.00':datum.value+':00'","labelFont":"Open Sans","labelFontWeight":"bold","labelFontSize":15.5,"labelColor":"#1f3864","labelPadding":15,"tickSize":5,"labelOverlap":false,"labelBound":false,"labelFlush":false}},"y":{"field":"v","type":"quantitative","title":null,"scale":{"domain":[0,50],"nice":false,"zero":false},"axis":{"values":[0,10,20,30,40,50],"labelOverlap":false,"labelExpr":"replace(format(datum.value,'.1f'),'.',',')"}}}},
{"data":{"name":"pts"},"transform":[{"filter":"datum.p=='IV3'&&datum.g!='ДЖ'"}],"mark":{"type":"line","color":"#161b7d","strokeWidth":3.5,"strokeDash":[8,5]},"encoding":{"x":{"field":"h","type":"quantitative","title":null},"y":{"field":"v","type":"quantitative","title":null,"scale":{"domain":[0,50],"nice":false,"zero":false},"axis":{"values":[0,10,20,30,40,50],"labelOverlap":false,"labelExpr":"replace(format(datum.value,'.1f'),'.',',')"}}}},
{"data":{"name":"pts"},"transform":[{"filter":"datum.p=='IV3'&&isValid(datum.lo)"}],"mark":{"type":"rule","color":"#000","strokeWidth":2.2},"encoding":{"x":{"field":"h","type":"quantitative","title":null},"y":{"field":"lo","type":"quantitative","title":null,"scale":{"domain":[0,50],"nice":false,"zero":false},"axis":{"values":[0,10,20,30,40,50],"labelOverlap":false,"labelExpr":"replace(format(datum.value,'.1f'),'.',',')"}},"y2":{"field":"hi"}}},
{"data":{"name":"pts"},"transform":[{"filter":"datum.p=='IV3'&&isValid(datum.lo)"}],"mark":{"type":"tick","orient":"horizontal","size":8,"thickness":2,"color":"#000"},"encoding":{"x":{"field":"h","type":"quantitative","title":null},"y":{"field":"lo","type":"quantitative","title":null,"scale":{"domain":[0,50],"nice":false,"zero":false},"axis":{"values":[0,10,20,30,40,50],"labelOverlap":false,"labelExpr":"replace(format(datum.value,'.1f'),'.',',')"}}}},
{"data":{"name":"pts"},"transform":[{"filter":"datum.p=='IV3'&&isValid(datum.lo)"}],"mark":{"type":"tick","orient":"horizontal","size":8,"thickness":2,"color":"#000"},"encoding":{"x":{"field":"h","type":"quantitative","title":null},"y":{"field":"hi","type":"quantitative","title":null,"scale":{"domain":[0,50],"nice":false,"zero":false},"axis":{"values":[0,10,20,30,40,50],"labelOverlap":false,"labelExpr":"replace(format(datum.value,'.1f'),'.',',')"}}}},
{"data":{"name":"labels"},"transform":[{"filter":"datum.p=='IV3'"}],"mark":{"type":"text","font":"Liberation Serif","fontSize":22,"color":"#000"},"encoding":{"text":{"field":"t","type":"nominal"},"x":{"datum":19.3,"type":"quantitative","title":null},"y":{"datum":46.6,"type":"quantitative","title":null,"scale":{"domain":[0,50],"nice":false,"zero":false},"axis":{"values":[0,10,20,30,40,50],"labelOverlap":false,"labelExpr":"replace(format(datum.value,'.1f'),'.',',')"}}}}
]}
],"spacing":100,"bounds":"flush"}
]}
]}
],
"config":{
"view":{"stroke":null},
"axis":{"domainColor":"#8c8c8c","tickColor":"#8c8c8c","grid":false,"labelFont":"DejaVu Sans","labelFontSize":15,"labelColor":"#404040","tickSize":6,"labelPadding":8,"domainWidth":1.3,"tickWidth":1.2,"labelOverlap":false},
"axisY":{"minExtent":48,"maxExtent":48},
"title":{"font":"Liberation Serif","fontSize":22,"fontWeight":"normal","color":"#000"}
}
}
